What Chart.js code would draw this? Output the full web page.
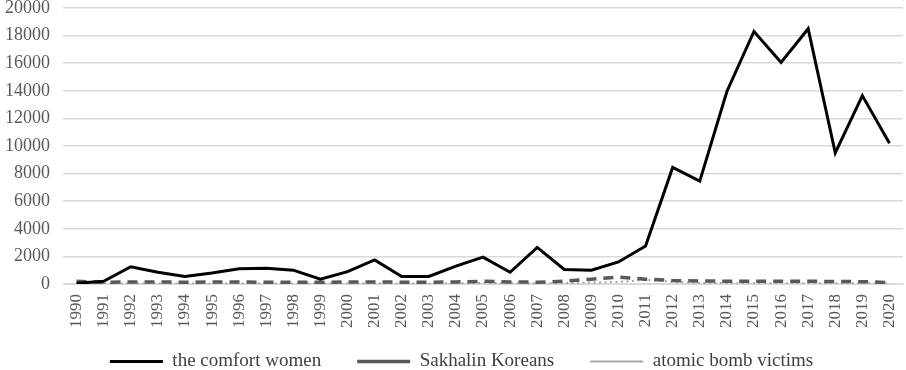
<!DOCTYPE html>
<html>
<head>
<meta charset="utf-8">
<script src="https://cdn.jsdelivr.net/npm/chart.js@4"></script>
<style>
  html, body { margin: 0; padding: 0; background: #fff; }
  #wrap { width: 906px; height: 370px; }
</style>
</head>
<body>
<div id="wrap"><canvas id="chart"></canvas></div>
<script>
// years on the x axis
const years = ['1990','1991','1992','1993','1994','1995','1996','1997','1998','1999',
  '2000','2001','2002','2003','2004','2005','2006','2007','2008','2009',
  '2010','2011','2012','2013','2014','2015','2016','2017','2018','2019','2020'];

// series
const comfortWomen = [50, 200, 1250, 850, 550, 800, 1100, 1150, 1000, 350,
  900, 1750, 550, 550, 1300, 1950, 850, 2650, 1050, 1000,
  1600, 2750, 8450, 7450, 13950, 18300, 16050, 18500, 9500, 13650, 10200];
const sakhalinKoreans = [200, 120, 150, 150, 130, 140, 140, 130, 120, 130,
  140, 150, 130, 130, 150, 200, 150, 130, 200, 350,
  500, 350, 250, 220, 200, 200, 200, 200, 180, 170, 100];
const atomicVictims = [40, 30, 40, 30, 30, 40, 40, 30, 30, 40,
  40, 50, 40, 40, 50, 80, 60, 50, 60, 100,
  150, 300, 150, 80, 60, 60, 60, 60, 50, 50, 30];

const serif = "'Liberation Serif', 'Times New Roman', serif";
const LEGEND_GAP = 36;   // horizontal gap between legend items

// legend: wide horizontal gaps but a compact height
const compactLegend = {
  id: 'compactLegend',
  beforeUpdate(chart) {
    const lg = chart.legend;
    if (!lg || lg._patched) return;
    const fit = lg.fit;
    lg.fit = function () { fit.call(this); this.height = 38; };
    lg._patched = true;
  },
  afterLayout(chart) {
    const lg = chart.legend;
    lg.top = chart.height - 18 - LEGEND_GAP;
    lg.bottom = chart.height;
    lg.left += 10;
    lg.right += 10;
  },
};

new Chart(document.getElementById('chart'), {
  type: 'line',
  data: {
    labels: years,
    datasets: [
      {
        label: 'the comfort women',
        data: comfortWomen,
        borderColor: '#000000',
        borderWidth: 3,
        pointRadius: 0, pointStyle: 'line',
        tension: 0,
      },
      {
        label: 'Sakhalin Koreans',
        data: sakhalinKoreans,
        borderColor: '#595959',
        borderWidth: 3.5,
        borderDash: [10, 7],
        pointRadius: 0, pointStyle: 'line',
        tension: 0,
      },
      {
        label: 'atomic bomb victims',
        data: atomicVictims,
        borderColor: '#a6a6a6',
        borderWidth: 2,
        borderDash: [2, 3.5],
        pointRadius: 0, pointStyle: 'line',
        tension: 0,
      },
    ],
  },
  plugins: [compactLegend],
  options: {
    responsive: true,
    maintainAspectRatio: false,
    animation: false,
    layout: { padding: { top: 0, right: 3, left: 0, bottom: 2 } },
    plugins: {
      tooltip: { enabled: false },
      legend: {
        position: 'bottom',
        labels: {
          usePointStyle: true,
          pointStyleWidth: 53,
          color: '#404040',
          font: { family: serif, size: 19 },
          padding: LEGEND_GAP,
        },
      },
    },
    scales: {
      x: {
        offset: true,
        grid: { display: false },
        border: { color: '#d9d9d9' },
        afterFit(scale) { scale.paddingLeft = 0; scale.paddingRight = 0; },
        ticks: {
          color: '#595959',
          font: { family: serif, size: 17 },
          minRotation: 90, maxRotation: 90,
          autoSkip: false,
          padding: 2,
        },
      },
      y: {
        min: 0, max: 20000,
        border: { display: false },
        grid: { color: '#d9d9d9', lineWidth: 1.5, drawTicks: false },
        afterFit(scale) { scale.paddingTop = 8; scale.width -= 8; },
        ticks: {
          stepSize: 2000,
          autoSkip: false,
          color: '#595959',
          font: { family: serif, size: 18 },
          padding: 13,
          callback: v => String(v),
        },
      },
    },
  },
});
</script>
</body>
</html>
